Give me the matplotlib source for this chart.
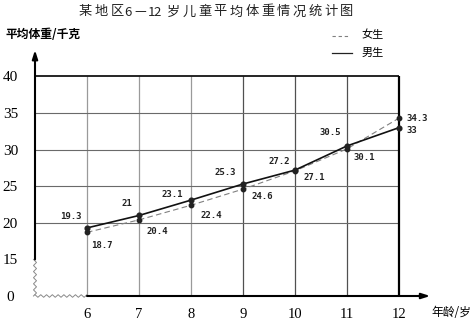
import numpy as np
import matplotlib
matplotlib.use('Agg')
import matplotlib.pyplot as plt
from matplotlib.lines import Line2D

# ---- data ----
ages = [6, 7, 8, 9, 10, 11, 12]
boys = [19.3, 21, 23.1, 25.3, 27.2, 30.5, 33]
girls = [18.7, 20.4, 22.4, 24.6, 27.1, 30.1, 34.3]
y_ticks = [15, 20, 25, 30, 35, 40]
y_tick_labels = ['15', '20', '25', '30', '35', '40']
zero_label = '0'
title = "某地区6—12岁儿童平均体重情况统计图"
y_title = "平均体重/千克"
x_title = "年龄/岁"
legend_labels = ["女生", "男生"]

# label offsets (pixels) for the value labels
boy_offsets = [(-16, 11), (-12, 12), (-19, 6), (-18, 12), (-16, 9), (-17, 13), (13, -3)]
girl_offsets = [(15, -13), (18, -12), (20, -10), (19, -7), (19, -7), (17, -9), (18, 0)]

CJK = ['Noto Sans CJK SC', 'DejaVu Sans']
SERIF = 'Liberation Serif'
MONO = 'DejaVu Sans Mono'

W, H = 475, 320
fig = plt.figure(figsize=(W / 100, H / 100), dpi=100)
fig.patch.set_facecolor('white')

def fx(px):
    return px / W

def fy(py):
    return 1 - py / H

# axes: x=5 at px 35, 52 px per year; virtual y=10 (label 0) at px 296, 7.32 px per kg
ax = fig.add_axes([fx(34), (H - 296) / H, 406 / W, 251 / H])
x0 = 5
ax.set_xlim(x0 - 1 / 52, x0 - 1 / 52 + 406 / 52)
ybot = 10  # virtual position of 0 (axis break)
ax.set_ylim(ybot, ybot + 251 / 7.32)
for s in ax.spines.values():
    s.set_visible(False)
ax.set_facecolor('none')

# grid
grid_cols = ['#9a9a9a' if a <= 8 else '#505050' for a in ages[:-1]]
ax.vlines(ages[:-1], ybot, y_ticks[-1], colors=grid_cols, lw=0.9, zorder=1)
ax.vlines(ages[-1], ybot, y_ticks[-1], colors='black', lw=1.6, zorder=2)
ax.hlines(y_ticks[1:-1], x0, ages[-1], colors='#6a6a6a', lw=0.8, zorder=1)
ax.hlines(y_ticks[-1], x0, ages[-1], colors='black', lw=1.2, zorder=2)
# left axis from 15 upward, bottom axis from 6 rightward
ax.annotate('', xy=(x0, 43.6), xytext=(x0, y_ticks[0]),
            arrowprops=dict(arrowstyle='-|>,head_length=0.5,head_width=0.16', lw=1.5,
                            color='black', shrinkA=0, shrinkB=0), annotation_clip=False, zorder=3)
ax.annotate('', xy=(12.6, ybot), xytext=(ages[0], ybot),
            arrowprops=dict(arrowstyle='-|>,head_length=0.5,head_width=0.16', lw=1.5,
                            color='black', shrinkA=0, shrinkB=0), annotation_clip=False, zorder=3)

# zigzag axis breaks
n = 13
zy = np.linspace(y_ticks[0], ybot, n)
zx = x0 + np.where(np.arange(n) % 2 == 0, -1, 1) * (1.5 / 52)
ax.plot(zx, zy, color='#8a8a8a', lw=0.7, clip_on=False)
m = 19
hx = np.linspace(x0, ages[0], m)
hy = ybot + np.where(np.arange(m) % 2 == 0, 1, -1) * (1.3 / 7.32)
ax.plot(hx, hy, color='#8a8a8a', lw=0.7, clip_on=False)

# series
ax.plot(ages, girls, color='#808080', lw=0.8, dashes=(5, 3), zorder=4, clip_on=False)
ax.plot(ages, boys, color='#111111', lw=1.2, zorder=5, clip_on=False)
ax.plot(ages, girls, 'o', color='#222222', ms=3.2, zorder=6, clip_on=False)
ax.plot(ages, boys, 'o', color='#222222', ms=3.4, zorder=6, clip_on=False)

for a, v, off in zip(ages, boys, boy_offsets):
    ax.annotate(f'{v:g}', (a, v), xytext=off, textcoords='offset pixels', ha='center',
                va='center', fontsize=6.5, family=MONO, fontweight='bold', color='#222222',
                annotation_clip=False)
for a, v, off in zip(ages, girls, girl_offsets):
    ax.annotate(f'{v:g}', (a, v), xytext=off, textcoords='offset pixels', ha='center',
                va='center', fontsize=6.5, family=MONO, fontweight='bold', color='#222222',
                annotation_clip=False)

# ticks
ax.set_yticks([ybot] + y_ticks)
ax.set_yticklabels([zero_label] + y_tick_labels, family=SERIF, fontsize=11, ha='center')
ax.tick_params(axis='y', length=0, pad=17)
ax.set_xticks(ages)
ax.set_xticklabels([str(a) for a in ages], family=SERIF, fontsize=10.5)
ax.tick_params(axis='x', length=0, pad=9)

# axis titles
fig.text(fx(5), fy(35), y_title, family=CJK, fontsize=8.5, fontweight='bold',
         ha='left', va='center')
fig.text(fx(451), fy(312), x_title, family=CJK, fontsize=8.5, ha='center', va='center')

# title, char by char (letter-spaced)
title_x = [85, 101, 117, 128, 140, 151, 157.5, 173]
title_x += [173 + 15.8 * k for k in range(1, 12)]
for ch, px in zip(title, title_x):
    fig.text(fx(px), fy(12), ch, family=CJK, fontsize=9.5, ha='center', va='center',
             color='#222222')

# legend
fig.add_artist(Line2D([fx(332), fx(348)], [fy(36), fy(36)], color='#808080', lw=0.8,
                      dashes=(3, 2.5)))
fig.add_artist(Line2D([fx(332), fx(352)], [fy(53), fy(53)], color='#222222', lw=0.9))
fig.text(fx(373), fy(35), legend_labels[0], family=CJK, fontsize=8, ha='center', va='center')
fig.text(fx(373), fy(53), legend_labels[1], family=CJK, fontsize=8, ha='center', va='center')

fig.savefig('out.png', dpi=100)
